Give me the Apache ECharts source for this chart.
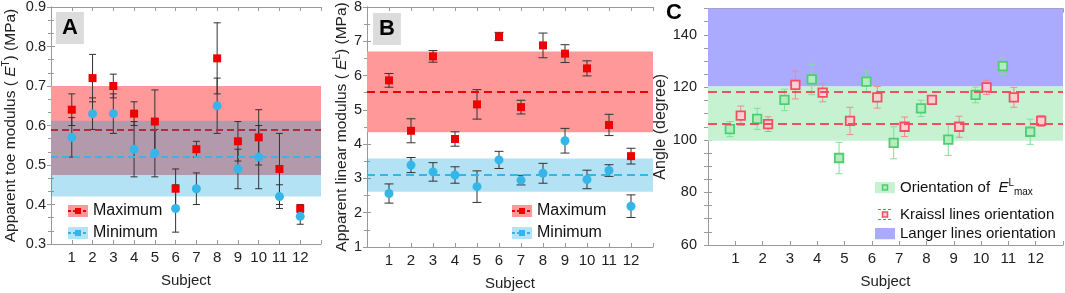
<!DOCTYPE html>
<html>
<head>
<meta charset="utf-8">
<script src="https://cdn.jsdelivr.net/npm/echarts@6/dist/echarts.min.js"></script>
<style>
html, body { margin: 0; padding: 0; background: #fff; }
#main { width: 1065px; height: 293px; }
</style>
</head>
<body>
<div id="main"></div>
<script>
var subjects = [1, 2, 3, 4, 5, 6, 7, 8, 9, 10, 11, 12];

// panel A: apparent toe modulus (MPa)
var toeMax    = [0.64, 0.72, 0.70, 0.63, 0.61, 0.44, 0.54, 0.77, 0.56, 0.57, 0.49, 0.39];
var toeMaxErr = [0.04, 0.06, 0.03, 0.03, 0.08, 0.05, 0.02, 0.09, 0.05, 0.07, 0.09, 0.01];
var toeMin    = [0.57, 0.63, 0.63, 0.54, 0.53, 0.39, 0.44, 0.65, 0.49, 0.52, 0.42, 0.37];
var toeMinErr = [0.05, 0.04, 0.05, 0.07, 0.06, 0.06, 0.04, 0.07, 0.05, 0.08, 0.03, 0.02];
var toeMaxBand = [0.475, 0.70], toeMaxMean = 0.589;
var toeMinBand = [0.42, 0.612], toeMinMean = 0.515;

// panel B: apparent linear modulus (MPa)
var linMax    = [5.86, 4.39, 6.56, 4.15, 5.16, 7.14, 5.08, 6.88, 6.64, 6.21, 4.56, 3.65];
var linMaxErr = [0.20, 0.35, 0.17, 0.21, 0.43, 0.12, 0.20, 0.36, 0.26, 0.22, 0.31, 0.23];
var linMin    = [2.56, 3.39, 3.19, 3.10, 2.76, 3.54, 2.95, 3.15, 4.10, 2.97, 3.23, 2.19];
var linMinErr = [0.28, 0.22, 0.27, 0.24, 0.46, 0.25, 0.14, 0.29, 0.36, 0.27, 0.17, 0.33];
var linMaxBand = [4.35, 6.70], linMaxMean = 5.53;
var linMinBand = [2.61, 3.58], linMinMean = 3.11;

// panel C: angles (degree)
var angleE    = [104.1, 108.0, 115.2, 123.0, 93.1, 122.2, 98.9, 112.0, 100.1, 117.1, 128.1, 103.1];
var angleEErr = [2.9, 4.0, 4.1, 5.8, 6.0, 4.0, 6.1, 3.1, 6.0, 3.0, 3.1, 4.8];
var angleK    = [109.2, 106.0, 120.9, 118.0, 107.2, 116.2, 105.0, 115.2, 105.0, 120.0, 116.2, 107.2];
var angleKErr = [3.7, 2.8, 5.3, 3.5, 5.2, 4.1, 3.7, 1.7, 4.0, 2.7, 3.8, 2.1];
var orientBand = [99.7, 120.3];
var langerBand = [120.3, 150];
var kraisslLines = [118.5, 106.0];

var FONT = 'Liberation Sans, Arial, sans-serif';
var AXIS = '#9a9a9a';
var TXT = '#222';

function svgIcon(svg) {
    return 'image://data:image/svg+xml;charset=utf-8,' + encodeURIComponent(svg);
}
var iconMax = svgIcon("<svg xmlns='http://www.w3.org/2000/svg' width='20' height='12'><rect width='20' height='12' fill='#ff9999'/><line x1='0' y1='6' x2='20' y2='6' stroke='#ee0000' stroke-width='2' stroke-dasharray='3,2'/><rect x='7' y='3' width='6' height='6' fill='#ee0000'/></svg>");
var iconMin = svgIcon("<svg xmlns='http://www.w3.org/2000/svg' width='20' height='12'><rect width='20' height='12' fill='#b3e3f5'/><line x1='0' y1='6' x2='20' y2='6' stroke='#35b6e8' stroke-width='2' stroke-dasharray='3,2'/><rect x='7' y='3' width='6' height='6' fill='#35b6e8'/></svg>");
var iconOrient = svgIcon("<svg xmlns='http://www.w3.org/2000/svg' width='20' height='12'><rect width='20' height='12' fill='#c6f2d2'/><rect x='7.5' y='3.5' width='5' height='5' fill='#aeeabb' stroke='#4ccf6e' stroke-width='1.5'/></svg>");
var iconKraissl = svgIcon("<svg xmlns='http://www.w3.org/2000/svg' width='20' height='12'><line x1='3' y1='1' x2='17' y2='1' stroke='#f25060' stroke-width='1' stroke-dasharray='3,2'/><line x1='3' y1='11' x2='17' y2='11' stroke='#f25060' stroke-width='1' stroke-dasharray='3,2'/><rect x='7.5' y='3.5' width='5' height='5' fill='#fbd0d4' stroke='#f25060' stroke-width='1.5'/></svg>");
var iconLanger = svgIcon("<svg xmlns='http://www.w3.org/2000/svg' width='20' height='12'><rect width='20' height='12' fill='#aaaaff'/></svg>");

function points(offset, means) {
    return subjects.map(function (s, i) { return [s + offset, means[i]]; });
}
function errData(offset, means, errs) {
    return subjects.map(function (s, i) { return [s + offset, means[i] - errs[i], means[i] + errs[i]]; });
}
function errBars(g, data, capW, color, z) {
    return {
        type: 'custom', xAxisIndex: 2 * g, yAxisIndex: 2 * g, z: z, silent: true,
        encode: { x: 0, y: [1, 2] },
        data: data,
        renderItem: function (params, api) {
            var x = api.value(0);
            var top = api.coord([x, api.value(2)]);
            var bot = api.coord([x, api.value(1)]);
            var h = capW / 2;
            var st = { stroke: color, lineWidth: 1 };
            return {
                type: 'group', children: [
                    { type: 'line', shape: { x1: top[0], y1: top[1], x2: bot[0], y2: bot[1] }, style: st },
                    { type: 'line', shape: { x1: top[0] - h, y1: top[1], x2: top[0] + h, y2: top[1] }, style: st },
                    { type: 'line', shape: { x1: bot[0] - h, y1: bot[1], x2: bot[0] + h, y2: bot[1] }, style: st }
                ]
            };
        }
    };
}
function band(g, name, range, color, lines, lineColor, dash, lineW) {
    var s = {
        type: 'line', name: name, xAxisIndex: 2 * g, yAxisIndex: 2 * g, data: [], z: 1,
        itemStyle: { color: color },
        markArea: { silent: true, itemStyle: { color: color }, data: [[{ yAxis: range[0] }, { yAxis: range[1] }]] }
    };
    if (lines) {
        s.markLine = {
            silent: true, symbol: ['none', 'none'], label: { show: false },
            lineStyle: { color: lineColor, type: dash, width: lineW },
            data: lines.map(function (v) { return { yAxis: v }; })
        };
    }
    return s;
}

var grids = [
    { left: 51, top: 7, width: 270, height: 237 },
    { left: 367, top: 7, width: 286, height: 240 },
    { left: 708, top: 8.5, width: 355, height: 236.5 }
];
grids.forEach(function (g) { g.outerBoundsMode = 'none'; });

var xAxes = [], yAxes = [];
var yCfg = [
    { min: 0.3, max: 0.9, interval: 0.1, minor: 3, margin: 5, name: 'Apparent toe modulus ( {i|E}{sup|T}) (MPa)', gap: 31 },
    { min: 1, max: 8, interval: 1, minor: 2, margin: 5, name: 'Apparent linear modulus ( {i|E}{sup|L}) (MPa)', gap: 14 },
    { min: 60, max: 150, interval: 5, minor: 0, margin: 11, name: 'Angle (degree)', gap: 25 }
];
var nameRich = {
    i: { fontStyle: 'italic', fontSize: 15.5, fontFamily: FONT, color: TXT },
    sup: { fontSize: 10, fontFamily: FONT, color: TXT, padding: [0, 0, 9, 0] }
};
for (var g = 0; g < 3; g++) {
    var tick = { show: true, inside: true, length: 4, lineStyle: { color: AXIS } };
    var line = { show: true, lineStyle: { color: AXIS, width: 1 } };
    xAxes.push({
        gridIndex: g, type: 'value', position: 'bottom', min: 0, max: 13, interval: 1,
        axisLine: line, axisTick: tick, splitLine: { show: false },
        axisLabel: {
            interval: 0, margin: 6, fontSize: 15, color: TXT, fontFamily: FONT,
            formatter: function (v) { return (v >= 1 && v <= 12) ? String(v) : ''; }
        },
        name: 'Subject', nameLocation: 'middle', nameGap: 29,
        nameTextStyle: { fontSize: 15, color: TXT, fontFamily: FONT }
    });
    xAxes.push({
        gridIndex: g, type: 'value', position: 'top', min: 0, max: 13, interval: 1,
        axisLine: line, axisTick: tick, splitLine: { show: false }, axisLabel: { show: false }
    });
    var c = yCfg[g];
    var minorTick = c.minor ? { show: true, splitNumber: c.minor, length: 3, lineStyle: { color: AXIS } } : { show: false };
    var lbl = {
        interval: 0, margin: c.margin, fontSize: 14.5, color: TXT, fontFamily: FONT,
        showMaxLabel: g !== 2
    };
    if (g === 2) lbl.formatter = function (v) { return (v % 20 === 0 && v <= 140) ? String(v) : ''; };
    yAxes.push({
        gridIndex: g, type: 'value', position: 'left', min: c.min, max: c.max, interval: c.interval,
        axisLine: line, axisTick: tick, minorTick: minorTick, splitLine: { show: false }, minorSplitLine: { show: false },
        axisLabel: lbl,
        name: c.name, nameLocation: 'middle', nameGap: c.gap,
        nameTextStyle: { fontSize: g === 2 ? 16 : 15.5, color: TXT, fontFamily: FONT, rich: nameRich }
    });
    yAxes.push({
        gridIndex: g, type: 'value', position: 'right', min: c.min, max: c.max, interval: c.interval,
        axisLine: line, axisTick: tick, minorTick: minorTick, splitLine: { show: false }, minorSplitLine: { show: false },
        axisLabel: { show: false }
    });
}

var series = [
    // A  (max mean line sits under the translucent blue band, hence the darker red)
    band(0, 'bandMaxA', toeMaxBand, '#ff9999', [toeMaxMean], '#b22a40', [7, 4], 2),
    band(0, 'bandMinA', toeMinBand, 'rgba(0,160,220,0.3)', [toeMinMean], '#35b6e8', [7, 4], 1.8),
    errBars(0, errData(0, toeMax, toeMaxErr), 7, '#333', 3),
    errBars(0, errData(0, toeMin, toeMinErr), 7, '#333', 3),
    { type: 'scatter', name: 'Maximum', xAxisIndex: 0, yAxisIndex: 0, z: 4, data: points(0, toeMax),
      symbol: 'rect', symbolSize: 8, itemStyle: { color: '#ee0000', opacity: 1 } },
    { type: 'scatter', name: 'Minimum', xAxisIndex: 0, yAxisIndex: 0, z: 5, data: points(0, toeMin),
      symbol: 'circle', symbolSize: 9, itemStyle: { color: '#35b6e8', opacity: 1 } },
    // B
    band(1, 'bandMaxB', linMaxBand, '#ff9999', [linMaxMean], '#ee0000', [8, 5], 2.2),
    band(1, 'bandMinB', linMinBand, 'rgba(0,160,220,0.3)', [linMinMean], '#35b6e8', [8, 5], 1.8),
    errBars(1, errData(0, linMax, linMaxErr), 9, '#333', 3),
    errBars(1, errData(0, linMin, linMinErr), 9, '#333', 3),
    { type: 'scatter', name: 'Maximum', xAxisIndex: 2, yAxisIndex: 2, z: 4, data: points(0, linMax),
      symbol: 'rect', symbolSize: 8, itemStyle: { color: '#ee0000', opacity: 1 } },
    { type: 'scatter', name: 'Minimum', xAxisIndex: 2, yAxisIndex: 2, z: 5, data: points(0, linMin),
      symbol: 'circle', symbolSize: 9, itemStyle: { color: '#35b6e8', opacity: 1 } },
    // C
    band(2, 'Langer lines orientation', langerBand, '#aaaaff'),
    band(2, 'bandOrient', orientBand, '#c6f2d2', kraisslLines, '#f25060', [9, 5], 2.2),
    errBars(2, errData(-0.2, angleE, angleEErr), 7, '#80df97', 3),
    errBars(2, errData(0.2, angleK, angleKErr), 7, '#f28a92', 3),
    { type: 'scatter', name: 'Orientation', xAxisIndex: 4, yAxisIndex: 4, z: 4, data: points(-0.2, angleE),
      symbol: 'rect', symbolSize: 8.5, itemStyle: { color: '#b2ecc0', borderColor: '#4ccf6e', borderWidth: 1.8, opacity: 1 } },
    { type: 'scatter', name: 'Kraissl lines orientation', xAxisIndex: 4, yAxisIndex: 4, z: 4, data: points(0.2, angleK),
      symbol: 'rect', symbolSize: 8.5, itemStyle: { color: '#fbd0d4', borderColor: '#f25060', borderWidth: 1.8, opacity: 1 } }
];

var legendText = { fontSize: 16, color: '#111', fontFamily: FONT };
var cText = { fontSize: 15, color: '#111', fontFamily: FONT };
var option = {
    animation: false,
    backgroundColor: '#fff',
    grid: grids,
    xAxis: xAxes,
    yAxis: yAxes,
    title: [
        { text: 'A', left: 56, top: 12, backgroundColor: '#dcdcdc', padding: [5, 6],
          textStyle: { fontSize: 22, fontWeight: 'bold', color: '#000', fontFamily: FONT } },
        { text: 'B', left: 373, top: 13, backgroundColor: '#dcdcdc', padding: [5, 6],
          textStyle: { fontSize: 22, fontWeight: 'bold', color: '#000', fontFamily: FONT } },
        { text: 'C', left: 662, top: 0, padding: [2, 4],
          textStyle: { fontSize: 22, fontWeight: 'bold', color: '#000', fontFamily: FONT } }
    ],
    legend: [
        { left: 68, top: 203, orient: 'vertical', itemWidth: 20, itemHeight: 12, itemGap: 6, selectedMode: false,
          padding: 0, textStyle: legendText,
          data: [{ name: 'Maximum', icon: iconMax }, { name: 'Minimum', icon: iconMin }] },
        { left: 512, top: 203, orient: 'vertical', itemWidth: 20, itemHeight: 12, itemGap: 6, selectedMode: false,
          padding: 0, textStyle: legendText,
          data: [{ name: 'Maximum', icon: iconMax }, { name: 'Minimum', icon: iconMin }] },
        { left: 875, top: 178, orient: 'vertical', itemWidth: 20, itemHeight: 12, selectedMode: false,
          padding: 0,
          textStyle: { fontSize: 15, color: '#111', fontFamily: FONT,
              rich: {
                  i: { fontStyle: 'italic', fontSize: 15, fontFamily: FONT, color: '#111' },
                  sup: { fontSize: 10, fontFamily: FONT, color: '#111', padding: [0, 0, 9, 0] },
                  sub: { fontSize: 10, fontFamily: FONT, color: '#111', padding: [10, 0, 0, 0] }
              } },
          formatter: function () { return 'Orientation of  {i|E}{sup|L}{sub|max}'; },
          data: [{ name: 'Orientation', icon: iconOrient }] },
        { left: 875, top: 207, orient: 'vertical', itemWidth: 20, itemHeight: 12, itemGap: 4, selectedMode: false,
          padding: 0, textStyle: cText,
          data: [{ name: 'Kraissl lines orientation', icon: iconKraissl },
                 { name: 'Langer lines orientation', icon: iconLanger }] }
    ],
    series: series
};

var myChart = echarts.init(document.getElementById('main'));
myChart.setOption(option);
</script>
</body>
</html>
